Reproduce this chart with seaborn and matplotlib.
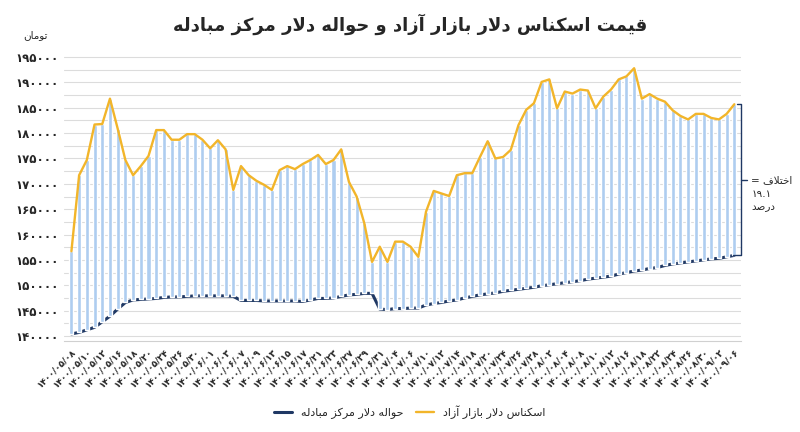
import matplotlib
matplotlib.use("Agg")
import matplotlib.pyplot as plt
import seaborn as sns
import numpy as np

# Data
free_market = [156700, 171700, 174700, 181700, 181800, 186800, 180900, 174700, 171700, 173500,
               175500, 180600, 180600, 178700, 178700, 179800, 179800, 178700, 177000, 178600,
               176800, 168800, 173500, 171700, 170600, 169800, 168800, 172700, 173500, 172900,
               173900, 174700, 175700, 173900, 174700, 176800, 170400, 167500, 162200, 154600,
               157600, 154600, 158600, 158600, 157600, 155600, 164500, 168600, 168100, 167600,
               171700, 172100, 172100, 175300, 178400, 175000, 175300, 176700, 181600, 184600,
               185900, 190100, 190600, 184900, 188200, 187800, 188600, 188400, 184900, 187200,
               188600, 190600, 191200, 192800, 186800, 187700, 186800, 186200, 184500, 183400,
               182700, 183800, 183800, 183000, 182700, 183800, 185700]
exchange_center = [140400, 140700, 141200, 141700, 142800, 143900, 145300, 146600, 147100, 147200,
                   147300, 147400, 147600, 147700, 147700, 147800, 147900, 147900, 147900, 147900,
                   147900, 147800, 147000, 147000, 147000, 146900, 146900, 146900, 146900, 146900,
                   146800, 147100, 147400, 147400, 147500, 147800, 148100, 148200, 148400, 148400,
                   145300, 145200, 145400, 145400, 145500, 145500, 146100, 146400, 146600, 146900,
                   147100, 147500, 147800, 148100, 148300, 148500, 148800, 149000, 149200, 149400,
                   149600, 149900, 150100, 150300, 150500, 150700, 150900, 151200, 151400, 151600,
                   151800, 152200, 152500, 152800, 153000, 153300, 153500, 153900, 154200, 154400,
                   154600, 154800, 155000, 155200, 155300, 155600, 155900]
date_labels = ["1400/05/08", "1400/05/10", "1400/05/12", "1400/05/16", "1400/05/18", "1400/05/20",
               "1400/05/24", "1400/05/26", "1400/05/30", "1400/06/01", "1400/06/03", "1400/06/07",
               "1400/06/09", "1400/06/13", "1400/06/15", "1400/06/17", "1400/06/21", "1400/06/23",
               "1400/06/27", "1400/06/29", "1400/06/31", "1400/07/04", "1400/07/06", "1400/07/10",
               "1400/07/12", "1400/07/14", "1400/07/18", "1400/07/20", "1400/07/24", "1400/07/26",
               "1400/07/28", "1400/08/02", "1400/08/04", "1400/08/08", "1400/08/10", "1400/08/12",
               "1400/08/16", "1400/08/18", "1400/08/22", "1400/08/24", "1400/08/26", "1400/08/30",
               "1400/09/02", "1400/09/06"]
y_ticks = [140000, 145000, 150000, 155000, 160000, 165000, 170000, 175000, 180000, 185000, 190000, 195000]
diff_pct = "19.1"

title = "قیمت اسکناس دلار بازار آزاد و حواله دلار مرکز مبادله"
unit = "تومان"
name_free = "اسکناس دلار بازار آزاد"
name_center = "حواله دلار مرکز مبادله"

# --- tiny Persian shaper (matplotlib has no bidi / joining) ---
FORMS = {
    'ا': (0xFE8D, 0xFE8E), 'آ': (0xFE81, 0xFE82), 'د': (0xFEA9, 0xFEAA),
    'ر': (0xFEAD, 0xFEAE), 'ز': (0xFEAF, 0xFEB0), 'و': (0xFEED, 0xFEEE),
    'ب': (0xFE8F, 0xFE90, 0xFE91, 0xFE92), 'ت': (0xFE95, 0xFE96, 0xFE97, 0xFE98),
    'ح': (0xFEA1, 0xFEA2, 0xFEA3, 0xFEA4), 'خ': (0xFEA5, 0xFEA6, 0xFEA7, 0xFEA8),
    'س': (0xFEB1, 0xFEB2, 0xFEB3, 0xFEB4), 'ص': (0xFEB9, 0xFEBA, 0xFEBB, 0xFEBC),
    'ف': (0xFED1, 0xFED2, 0xFED3, 0xFED4), 'ق': (0xFED5, 0xFED6, 0xFED7, 0xFED8),
    'ل': (0xFEDD, 0xFEDE, 0xFEDF, 0xFEE0), 'م': (0xFEE1, 0xFEE2, 0xFEE3, 0xFEE4),
    'ن': (0xFEE5, 0xFEE6, 0xFEE7, 0xFEE8), 'ه': (0xFEE9, 0xFEEA, 0xFEEB, 0xFEEC),
    'ک': (0xFB8E, 0xFB8F, 0xFB90, 0xFB91), 'ی': (0xFBFC, 0xFBFD, 0xFBFE, 0xFBFF),
}
LAM_ALEF = {'ا': (0xFEFB, 0xFEFC), 'آ': (0xFEF5, 0xFEF6)}


def dual(c):
    return c in FORMS and len(FORMS[c]) == 4


def shape(text):
    out = []
    i = 0
    n = len(text)
    while i < n:
        c = text[i]
        prev_joins = i > 0 and dual(text[i - 1])
        if c == 'ل' and i + 1 < n and text[i + 1] in LAM_ALEF:
            iso, fin = LAM_ALEF[text[i + 1]]
            out.append(chr(fin if prev_joins else iso))
            i += 2
            continue
        if c in FORMS:
            f = FORMS[c]
            if len(f) == 2:
                out.append(chr(f[1] if prev_joins else f[0]))
            else:
                next_joins = i + 1 < n and text[i + 1] in FORMS
                idx = {(False, False): 0, (True, False): 1, (False, True): 2, (True, True): 3}
                out.append(chr(f[idx[(prev_joins, next_joins)]]))
        else:
            out.append(c)
        i += 1
    return ''.join(reversed(out))


fa_digits = str.maketrans("0123456789", "۰۱۲۳۴۵۶۷۸۹")

# --- plot ---
sns.set_style("white")
plt.rcParams['font.family'] = ['DejaVu Sans']

fig = plt.figure(figsize=(8, 4.32), dpi=100)
ax = fig.add_axes([0.0806, 0.2106, 0.846, 0.669])

idx = np.arange(len(free_market))
free = np.array(free_market)
center = np.array(exchange_center)

for g in np.arange(140000, 196001, 2500):
    ax.axhline(g, color='#dcdcdc', lw=0.8, zorder=0)

sns.lineplot(x=idx, y=center, color='#1f3864', lw=2.2, ax=ax, zorder=2, label=shape(name_center))
ax.bar(idx, free - center, bottom=center, width=0.52, color='#aecdf0', zorder=3)
sns.lineplot(x=idx, y=free, color='#f2b52a', lw=1.7, ax=ax, zorder=4, label=shape(name_free))

ax.set_xlim(-0.9, 86.9)
ax.set_ylim(139000, 196000)
ax.set_yticks(y_ticks)
ax.set_yticklabels([str(v).translate(fa_digits) for v in y_ticks], fontsize=8.5, fontweight='bold')
ax.set_xticks(idx[::2])
ax.set_xticklabels([d.translate(fa_digits) for d in date_labels], rotation=45, ha='right',
                   rotation_mode='anchor', fontsize=6.5, fontweight='bold')
ax.tick_params(length=0, pad=4)
ax.set_xlabel("")
ax.set_ylabel("")
for s in ['top', 'right', 'left']:
    ax.spines[s].set_visible(False)
ax.spines['bottom'].set_color('#d0d0d0')

fig.text(0.513, 0.945, shape(title), ha='center', va='center', fontsize=13, fontweight='bold')
fig.text(0.045, 0.918, shape(unit), ha='center', va='center', fontsize=7.5)

# bracket for the gap on the last day
last = len(free_market) - 1
bx = last + 0.9
ax.plot([last + 0.4, bx, bx, last - 0.2], [free[-1], free[-1], center[-1], center[-1]],
        color='#1f3864', lw=1, zorder=5, clip_on=False)
mid = (free[-1] + center[-1]) / 2
ax.plot([bx, bx + 0.8], [mid, mid], color='#1f3864', lw=1, clip_on=False)
ax.text(bx + 1.3, mid, shape("اختلاف ="), fontsize=7.5, ha='left', va='center')
ax.text(bx + 1.3, mid - 2800, diff_pct.translate(fa_digits), fontsize=7.5, ha='left', va='center')
ax.text(bx + 1.3, mid - 5400, shape("درصد"), fontsize=7.5, ha='left', va='center')

ax.legend(loc='center', bbox_to_anchor=(0.51, -0.246), ncol=2, frameon=False,
          fontsize=8, handlelength=1.6, columnspacing=1.2)

fig.savefig("out.png", dpi=100)
